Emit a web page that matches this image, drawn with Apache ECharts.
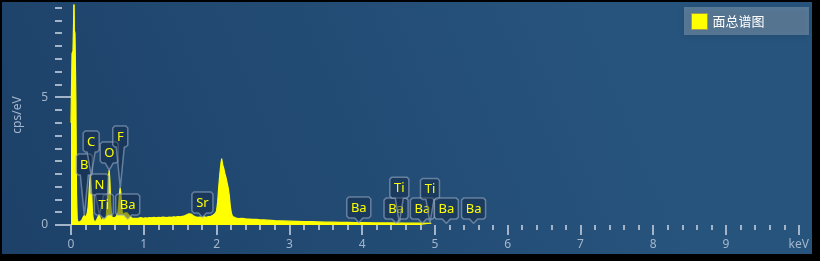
<!DOCTYPE html>
<html><head><meta charset="utf-8">
<script src="https://cdn.jsdelivr.net/npm/echarts@6/dist/echarts.min.js"></script>
<style>
html,body{margin:0;padding:0;background:#000;width:820px;height:261px;overflow:hidden}
#c{position:absolute;left:2px;top:2px;width:810px;height:252px;}
</style></head><body><div id="c"></div>
<script>
// ---- data ----
const seriesName = '面总谱图';
const energy = [0, 0.014, 0.027, 0.036, 0.041, 0.046, 0.055, 0.068, 0.076, 0.085,
  0.095, 0.105, 0.115, 0.125, 0.135, 0.145, 0.155, 0.165, 0.175, 0.185, 0.195, 0.205, 0.215, 0.225,
  0.235, 0.245, 0.255, 0.265, 0.275, 0.285, 0.295, 0.305, 0.315, 0.325, 0.335, 0.345, 0.355, 0.365,
  0.375, 0.385, 0.395, 0.405, 0.415, 0.425, 0.435, 0.445, 0.455, 0.465, 0.475, 0.485, 0.495, 0.505,
  0.515, 0.525, 0.535, 0.545, 0.555, 0.565, 0.575, 0.585, 0.595, 0.605, 0.615, 0.625, 0.635, 0.645,
  0.655, 0.665, 0.675, 0.685, 0.695, 0.705, 0.715, 0.73, 0.745, 0.76, 0.775, 0.79, 0.805, 0.82,
  0.84, 0.86, 0.88, 0.9, 0.93, 0.96, 0.99, 1.02, 1.05, 1.08, 1.11, 1.14, 1.17, 1.2, 1.23, 1.26,
  1.29, 1.32, 1.35, 1.38, 1.41, 1.44, 1.47, 1.5, 1.53, 1.56, 1.59, 1.62, 1.65, 1.68, 1.71, 1.74,
  1.77, 1.8, 1.83, 1.86, 1.89, 1.92, 1.95, 1.98, 2.0, 2.015, 2.03, 2.045, 2.06, 2.07, 2.085, 2.1,
  2.115, 2.13, 2.145, 2.16, 2.175, 2.19, 2.205, 2.22, 2.24, 2.27, 2.3, 2.35, 2.4, 2.45, 2.5, 2.55,
  2.6, 2.65, 2.7, 2.75, 2.8, 2.9, 3.0, 3.1, 3.2, 3.3, 3.4, 3.5, 3.6, 3.7, 3.8, 3.9, 4.0, 4.2,
  4.4, 4.6, 4.8, 4.95];
const cps = [4.0, 6.7, 6.8, 8.0, 9.5, 7.6, 7.5, 4.8, 1.2, 0.25,
  0.12, 0.1, 0.15, 0.12, 0.18, 0.15, 0.22, 0.3, 0.35, 0.38, 0.32, 0.28, 0.35, 0.5,
  0.7, 1.1, 1.6, 1.95, 1.9, 1.2, 0.5, 0.25, 0.15, 0.12, 0.18, 0.15, 0.2, 0.28,
  0.35, 0.4, 0.38, 0.25, 0.15, 0.12, 0.2, 0.28, 0.3, 0.22, 0.2, 0.35, 0.7, 1.3,
  1.9, 2.15, 1.7, 0.9, 0.45, 0.3, 0.25, 0.3, 0.28, 0.35, 0.3, 0.33, 0.38, 0.5,
  0.8, 1.2, 1.45, 1.25, 0.8, 0.5, 0.4, 0.42, 0.48, 0.5, 0.47, 0.42, 0.35, 0.3,
  0.27, 0.29, 0.26, 0.28, 0.27, 0.29, 0.26, 0.28, 0.27, 0.29, 0.28, 0.3, 0.28, 0.3, 0.29, 0.31,
  0.3, 0.29, 0.31, 0.3, 0.32, 0.31, 0.33, 0.32, 0.34, 0.36, 0.4, 0.44, 0.43, 0.36, 0.32, 0.3,
  0.31, 0.3, 0.32, 0.3, 0.33, 0.34, 0.38, 0.45, 0.55, 0.9, 1.5, 2.0, 2.4, 2.6, 2.35, 2.2,
  2.0, 1.85, 1.65, 1.45, 1.15, 0.7, 0.45, 0.33, 0.28, 0.27, 0.25, 0.26, 0.24, 0.23, 0.22, 0.22,
  0.2, 0.2, 0.19, 0.18, 0.17, 0.16, 0.15, 0.14, 0.13, 0.13, 0.12, 0.11, 0.11, 0.1, 0.1, 0.09, 0.09, 0.08,
  0.08, 0.07, 0.07, 0.06];

const peakText   = ['B', 'C', 'N', 'Ti', 'O', 'F', 'Ba', 'Sr', 'Ba', 'Ba', 'Ti', 'Ba', 'Ti', 'Ba', 'Ba'];
const peakEnergy = [0.183, 0.277, 0.392, 0.452, 0.525, 0.677, 0.779, 1.806, 3.954, 4.466, 4.511, 4.828, 4.932, 5.157, 5.531];
const boxLevel   = [1.95, 2.85, 1.17, 0.39, 2.42, 3.05, 0.39, 0.47, 0.27, 0.23, 1.05, 0.23, 1.0, 0.23, 0.23];
const tipLevel   = [0.38, 1.95, 0.4, 0.3, 2.15, 1.45, 0.5, 0.3, 0.09, 0.08, 0.08, 0.07, 0.07, 0.07, 0.07];

const xMajorLabels = ['0', '1', '2', '3', '4', '5', '6', '7', '8', '9', 'keV'];
const yLabelValues = [0, 5];
const yName = 'cps/eV';

// ---- chart ----
const tickColor = '#a4b4c8';
const labelColor = '#a4b6cc';
const yMinorValues = [];
for (let v = 0; v <= 8.5; v += 0.5) yMinorValues.push(v);

const measureCtx = document.createElement('canvas').getContext('2d');
const labelFont = '13px "Noto Sans"';
measureCtx.font = labelFont;

function renderItem(params, api) {
  const i = params.dataIndex;
  const e = api.value(0);
  const base = api.coord([e, api.value(1)]);
  const tip = api.coord([e, api.value(2)]);
  const txt = peakText[i];
  const w = Math.round(measureCtx.measureText(txt).width) + 8;
  const h = 21;
  const cx = base[0], yb = base[1], yt = yb - h;
  const x0 = cx - w / 2, x1 = cx + w / 2;
  const half = 4, c = 2;
  const ty = Math.max(tip[1], yb + 4);
  const pts = [[x0 + c, yt], [x1 - c, yt], [x1, yt + c], [x1, yb - c], [x1 - c, yb],
    [cx + half, yb], [tip[0], ty], [cx - half, yb], [x0 + c, yb], [x0, yb - c], [x0, yt + c]];
  return {
    type: 'group',
    children: [
      { type: 'polygon', shape: { points: pts },
        style: { fill: 'rgba(18,38,66,0.45)', stroke: 'rgba(150,170,195,0.6)', lineWidth: 1.5, lineJoin: 'round' } },
      { type: 'text', x: cx, y: yt + h / 2 + 0.5,
        style: { text: txt, fill: '#ffff00', font: labelFont, align: 'center', verticalAlign: 'middle' } }
    ]
  };
}

const chart = echarts.init(document.getElementById('c'), null, { renderer: 'canvas' });
chart.setOption({
  animation: false,
  backgroundColor: {
    type: 'linear', x: 0, y: 1, x2: 0.75, y2: 0,
    colorStops: [{ offset: 0, color: '#1d4169' }, { offset: 1, color: '#27547d' }]
  },
  graphic: [{
    type: 'rect', left: 682, top: 5, shape: { width: 125, height: 28 },
    style: { fill: 'rgba(255,255,255,0.23)', shadowBlur: 6, shadowColor: 'rgba(0,0,0,0.45)', shadowOffsetY: 1 }
  }],
  legend: {
    data: [seriesName], left: 689, top: 11, padding: 0, itemWidth: 16, itemHeight: 16, itemGap: 6,
    icon: 'rect',
    itemStyle: { color: '#ffff00', borderColor: '#9c9c55', borderWidth: 1 },
    textStyle: { color: '#ffffff', fontSize: 13, fontFamily: '"Noto Sans CJK SC"' }
  },
  grid: { left: 69, right: 11, top: 3, bottom: 29 },
  xAxis: {
    type: 'value', min: 0, max: 10, interval: 1, position: 'bottom', offset: 1,
    axisLine: { show: false }, splitLine: { show: false },
    axisTick: { show: true, length: 10, lineStyle: { color: tickColor, width: 2 } },
    minorTick: { show: true, splitNumber: 5, length: 5, lineStyle: { color: tickColor, width: 2 } },
    axisLabel: { color: labelColor, fontSize: 12, fontFamily: '"Noto Sans"', margin: 13,
      formatter: v => xMajorLabels[Math.round(v)] }
  },
  yAxis: [{
    type: 'value', min: 0, max: 8.6, position: 'left', offset: 9,
    axisLine: { show: false }, splitLine: { show: false },
    axisTick: { show: true, length: 10, lineStyle: { color: tickColor, width: 2 }, customValues: yLabelValues },
    axisLabel: { color: labelColor, fontSize: 12, fontFamily: '"Noto Sans"', margin: 14, customValues: yLabelValues },
    name: yName, nameLocation: 'middle', nameGap: 38,
    nameTextStyle: { color: labelColor, fontSize: 12, fontFamily: '"Noto Sans"' }
  }, {
    type: 'value', min: 0, max: 8.6, position: 'left', offset: 9,
    axisLine: { show: false }, splitLine: { show: false },
    axisTick: { show: true, length: 7, lineStyle: { color: tickColor, width: 2 }, customValues: yMinorValues },
    axisLabel: { show: false }
  }],
  series: [{
    name: seriesName, type: 'line', xAxisIndex: 0, yAxisIndex: 0,
    data: energy.map((e, i) => [e, cps[i]]),
    symbol: 'none', clip: true,
    lineStyle: { color: '#ffff00', width: 1.2 },
    itemStyle: { color: '#ffff00' },
    areaStyle: { color: '#ffff00', opacity: 1 }
  }, {
    type: 'custom', xAxisIndex: 0, yAxisIndex: 0, clip: false, z: 5,
    data: peakEnergy.map((e, i) => [e, boxLevel[i], tipLevel[i]]),
    renderItem: renderItem
  }]
});
</script></body></html>
